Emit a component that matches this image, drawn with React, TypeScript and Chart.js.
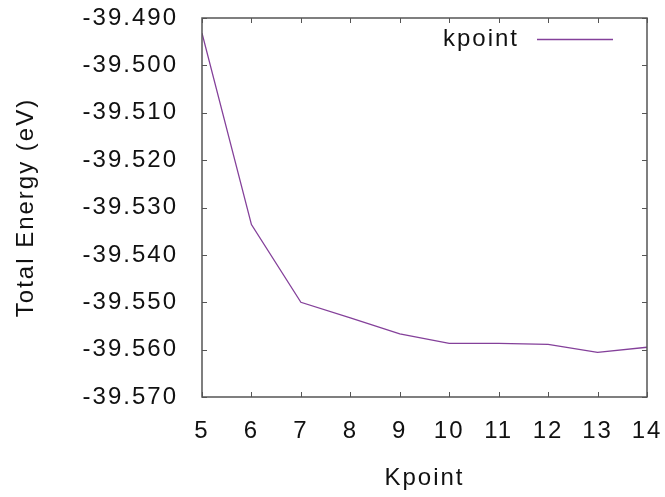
import React, { useEffect, useRef } from "react";
import { Chart, registerables } from "chart.js";

Chart.register(...registerables);

const kpoints = [5, 6, 7, 8, 9, 10, 11, 12, 13, 14];
const totalEnergy = [-39.4932, -39.5336, -39.55, -39.5533, -39.5567, -39.5587, -39.5587, -39.5589, -39.5606, -39.5595];
const seriesLabel = "kpoint";
const xTitle = "Kpoint";
const yTitle = "Total Energy (eV)";
const yMin = -39.57;
const yMax = -39.49;
const xMin = 5;
const xMax = 14;

const FONT = "'Liberation Sans', Arial, sans-serif";
const LINE_COLOR = "#84409a";
const AXIS_COLOR = "#555555";

const spacing = {
  id: "spacing",
  beforeInit(chart: any) {
    chart.ctx.letterSpacing = "2px";
  },
  beforeLayout(chart: any) {
    chart.ctx.letterSpacing = "2px";
  },
  beforeDraw(chart: any) {
    chart.ctx.letterSpacing = "2px";
  },
};

const innerTicks = {
  id: "innerTicks",
  afterDatasetsDraw(chart: any) {
    const { ctx, chartArea, scales } = chart;
    const len = 5;
    ctx.save();
    ctx.strokeStyle = AXIS_COLOR;
    ctx.lineWidth = 1;
    ctx.beginPath();
    scales.x.ticks.forEach((t: any) => {
      const px = Math.round(scales.x.getPixelForValue(t.value)) + 0.5;
      ctx.moveTo(px, chartArea.bottom);
      ctx.lineTo(px, chartArea.bottom - len);
      ctx.moveTo(px, chartArea.top);
      ctx.lineTo(px, chartArea.top + len);
    });
    scales.y.ticks.forEach((t: any) => {
      const py = Math.round(scales.y.getPixelForValue(t.value)) + 0.5;
      ctx.moveTo(chartArea.left, py);
      ctx.lineTo(chartArea.left + len, py);
      ctx.moveTo(chartArea.right, py);
      ctx.lineTo(chartArea.right - len, py);
    });
    ctx.stroke();
    ctx.lineWidth = 1.5;
    ctx.strokeRect(chartArea.left, chartArea.top, chartArea.right - chartArea.left, chartArea.bottom - chartArea.top);
    ctx.restore();
  },
};

const gnuKey = {
  id: "gnuKey",
  afterDatasetsDraw(chart: any) {
    const { ctx, chartArea } = chart;
    const ds = chart.data.datasets[0];
    const lineEnd = chartArea.right - 34;
    const lineStart = lineEnd - 76;
    const y = chartArea.top + 21;
    ctx.save();
    ctx.letterSpacing = "2px";
    ctx.font = `24px ${FONT}`;
    ctx.fillStyle = "#111";
    ctx.textAlign = "right";
    ctx.textBaseline = "middle";
    ctx.fillText(ds.label, lineStart - 18, y);
    ctx.strokeStyle = ds.borderColor;
    ctx.lineWidth = ds.borderWidth;
    ctx.beginPath();
    ctx.moveTo(lineStart, y + 0.5);
    ctx.lineTo(lineEnd, y + 0.5);
    ctx.stroke();
    ctx.restore();
  },
};

export default function App() {
  const ref = useRef<HTMLCanvasElement>(null);
  useEffect(() => {
    document.body.style.margin = "0";
    const ctx2d = ref.current!.getContext("2d") as any;
    if (ctx2d) ctx2d.letterSpacing = "2px";
    const chart = new Chart(ref.current!, {
      type: "line",
      data: {
        datasets: [
          {
            label: seriesLabel,
            data: kpoints.map((k, i) => ({ x: k, y: totalEnergy[i] })),
            borderColor: LINE_COLOR,
            borderWidth: 1.3,
            pointRadius: 0,
            tension: 0,
            fill: false,
          },
        ],
      },
      options: {
        animation: false,
        responsive: false,
        layout: { padding: { left: 0, right: 18, top: 18, bottom: 0 } },
        plugins: { legend: { display: false }, tooltip: { enabled: false } },
        scales: {
          x: {
            type: "linear",
            min: xMin,
            max: xMax,
            border: { display: false },
            grid: { display: false, drawTicks: false },
            ticks: {
              stepSize: 1,
              padding: 20,
              color: "#111",
              font: { family: FONT, size: 24 },
              maxRotation: 0,
            },
            title: {
              display: true,
              text: xTitle,
              color: "#111",
              font: { family: FONT, size: 24 },
              padding: { top: 0, bottom: 4 },
            },
            afterFit(scale: any) {
              scale.height = 100;
              scale.paddingLeft = 0;
              scale.paddingRight = 0;
            },
          },
          y: {
            type: "linear",
            min: yMin,
            max: yMax,
            border: { display: false },
            grid: { display: false, drawTicks: false },
            ticks: {
              stepSize: 0.01,
              padding: 24,
              color: "#111",
              font: { family: FONT, size: 24 },
              callback: (v: any) => Number(v).toFixed(3),
            },
            title: {
              display: true,
              text: yTitle,
              color: "#111",
              font: { family: FONT, size: 24 },
              padding: { top: 12, bottom: 0 },
            },
            afterFit(scale: any) {
              scale.width = 202;
              scale.paddingTop = 0;
              scale.paddingBottom = 0;
            },
          },
        },
      },
      plugins: [spacing, innerTicks, gnuKey],
    } as any);
    return () => chart.destroy();
  }, []);
  return (
    <div style={{ position: "fixed", left: 0, top: 0, width: 665, height: 497, background: "#fff" }}>
      <canvas ref={ref} width={665} height={497} />
    </div>
  );
}
